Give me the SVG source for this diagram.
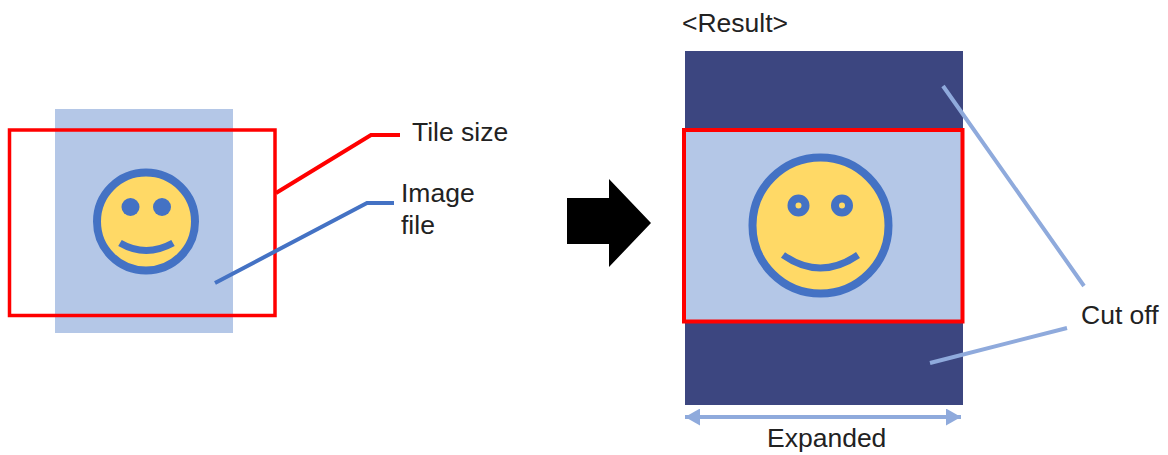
<svg xmlns="http://www.w3.org/2000/svg" width="1168" height="455" viewBox="0 0 1168 455">
<defs><marker id="ah" viewBox="0 0 16 17" refX="15" refY="8.500" markerWidth="16" markerHeight="17" markerUnits="userSpaceOnUse" orient="auto-start-reverse"><path d="M0 0L15 8.500L0 17z" fill="#8faadc"/></marker></defs>
<style>text{font-family:"Liberation Sans",Arial,sans-serif;font-size:26.500px;fill:#222}.f{fill:#ffd966;stroke:#4472c4}.e{fill:#4472c4}</style>
<rect width="1168" height="455" fill="#fff"/>
<g id="image-file"><rect x="55" y="109" width="178" height="224" fill="#b4c7e7"/>
<circle class="f" cx="146" cy="221.500" r="49" stroke-width="8"/><circle class="e" cx="130.500" cy="207" r="9"/><circle class="e" cx="162" cy="207" r="9"/><path d="M120 243Q146 258 173 243" fill="none" stroke="#4472c4" stroke-width="7"/></g>
<g id="tile-size"><rect x="9.500" y="130" width="265.500" height="185.500" fill="none" stroke="#ff0000" stroke-width="3.500"/></g>
<g id="result"><text x="682" y="32">&lt;Result&gt;</text><rect x="685" y="51" width="278" height="354" fill="#3c4680"/><rect x="684" y="130" width="278.500" height="191.500" fill="#b4c7e7" stroke="#ff0000" stroke-width="4"/>
<circle class="f" cx="820.500" cy="225.500" r="68" stroke-width="8"/><circle cx="798.500" cy="205.500" r="7" fill="#ffd966" stroke="#4472c4" stroke-width="8"/><circle cx="842" cy="205.500" r="7" fill="#ffd966" stroke="#4472c4" stroke-width="8"/><path d="M783 255Q820 281 858 255" fill="none" stroke="#4472c4" stroke-width="7"/></g>
<g id="arrow"><path d="M567 198H609V179L651 223L609 267V244H567z" fill="#000"/></g>
<g id="labels"><text x="412" y="141">Tile size</text><text x="401" y="202">Image</text><text x="401" y="234">file</text><text x="1081" y="324">Cut off</text><text x="767" y="447">Expanded</text></g>
<g id="connectors" fill="none"><path d="M276 193L371 135H400" stroke="#ff0000" stroke-width="4"/><path d="M215 283L367 203H394" stroke="#4472c4" stroke-width="4"/><path d="M943 86L1084 286M930 363L1067 328" stroke="#8faadc" stroke-width="4"/><path d="M685 417H961" stroke="#8faadc" stroke-width="4" marker-start="url(#ah)" marker-end="url(#ah)"/></g>
</svg>
